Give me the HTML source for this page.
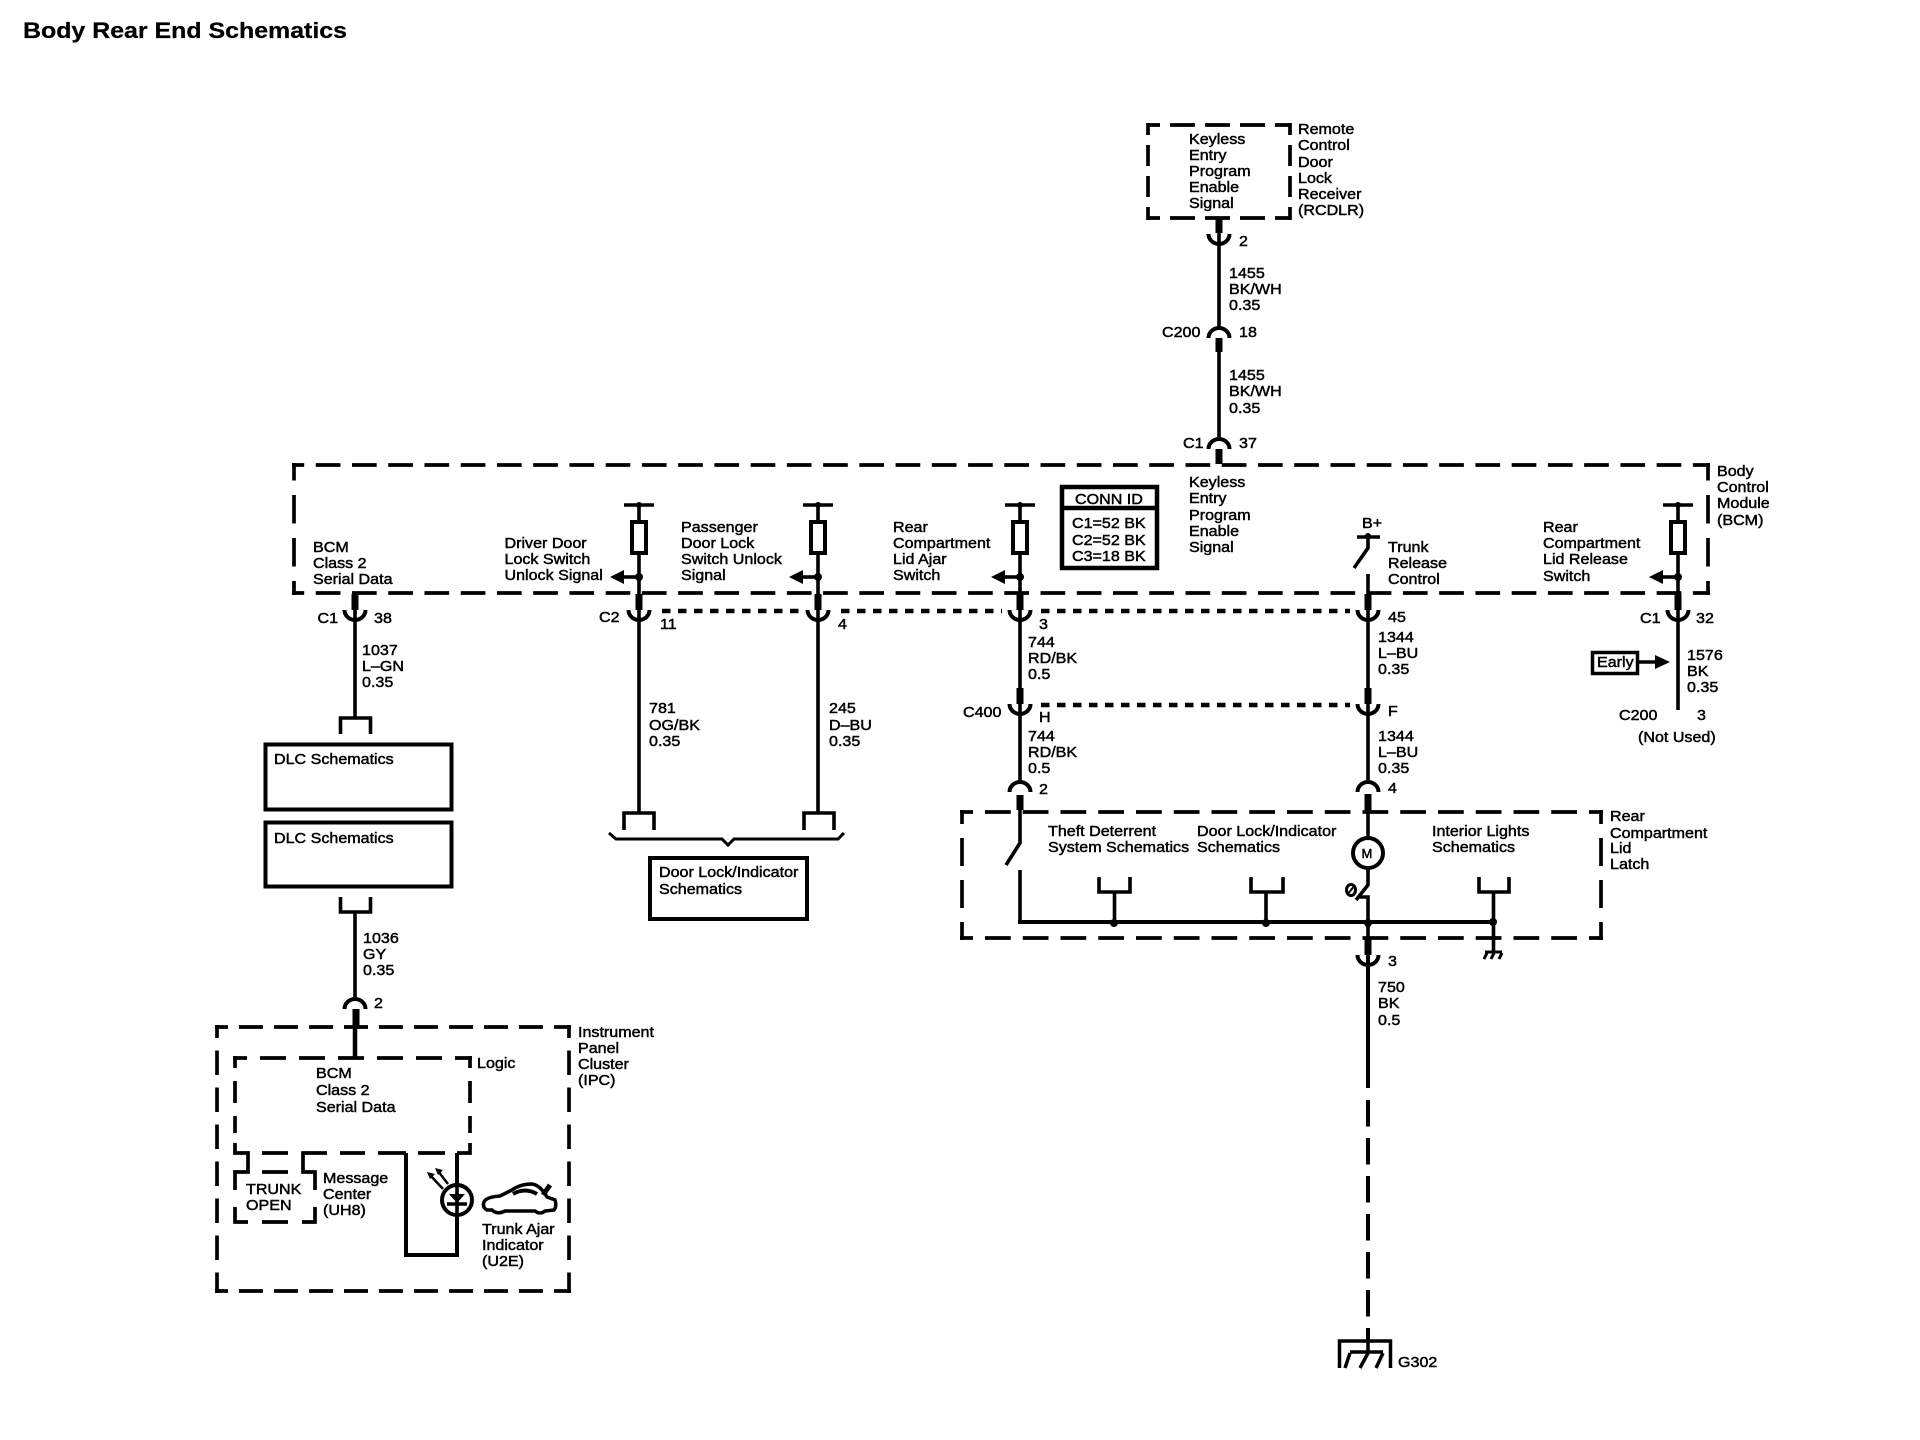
<!DOCTYPE html>
<html><head><meta charset="utf-8"><title>Body Rear End Schematics</title>
<style>
html,body{margin:0;padding:0;background:#fff}
svg{display:block}
text{font-family:"Liberation Sans",sans-serif;font-size:14.5px;fill:#000;stroke:#000;stroke-width:.45px}
.w{fill:none;stroke:#000;stroke-width:3.6}
.s{fill:none;stroke:#000;stroke-width:7}
.b{fill:none;stroke:#000;stroke-width:3.7}
.p{fill:none;stroke:#000;stroke-width:4.5}
.d{fill:#000;stroke:none}
</style></head><body>
<svg xmlns="http://www.w3.org/2000/svg" width="1920" height="1440" viewBox="0 0 1920 1440">
<defs>
<path id="u" d="M-10.5 0A10.5 10 0 0 0 10.5 0" fill="none" stroke="#000" stroke-width="4"/>
<path id="n" d="M-10.5 12A10.5 10 0 0 1 10.5 12" fill="none" stroke="#000" stroke-width="4"/>
<g id="fuse">
<path d="M-15 0H15M0 0V17M0 48V72" fill="none" stroke="#000" stroke-width="3.6"/>
<rect x="-7" y="17" width="14" height="31" fill="#fff" stroke="#000" stroke-width="4"/>
<circle cx="0" cy="0" r="3" fill="#000"/>
<circle cx="0" cy="72" r="4" fill="#000"/>
<path d="M0 72H-15" stroke="#000" stroke-width="3.6"/>
<path d="M-29 72L-15 65V79Z" fill="#000"/>
</g>
</defs>
<rect width="1920" height="1440" fill="#fff"/>

<text x="23" y="38" textLength="324" lengthAdjust="spacingAndGlyphs" style="font-size:22px;font-weight:bold;stroke-width:.25px">Body Rear End Schematics</text>

<!-- RCDLR box -->
<path class="b" d="M1148 125H1290" stroke-dasharray="25 10" stroke-dashoffset="13"/>
<path class="b" d="M1148 218H1290" stroke-dasharray="25 10" stroke-dashoffset="13"/>
<path class="b" d="M1148 123V220" stroke-dasharray="21 10" stroke-dashoffset="9"/>
<path class="b" d="M1290 123V220" stroke-dasharray="21 10" stroke-dashoffset="9"/>

<!-- BCM box -->
<path class="b" d="M292 465H1710" stroke-dasharray="24.7 11.54" stroke-dashoffset="12.5"/>
<path class="b" d="M292 593H1710" stroke-dasharray="24.7 11.54" stroke-dashoffset="12.5"/>
<path class="b" d="M294 463V595" stroke-dasharray="28.5 14.5" stroke-dashoffset="11"/>
<path class="b" d="M1708 463V595" stroke-dasharray="28.5 14.5" stroke-dashoffset="11"/>

<!-- Latch box -->
<path class="b" d="M960 812H1603" stroke-dasharray="25.75 12" stroke-dashoffset="12.75"/>
<path class="b" d="M960 938H1603" stroke-dasharray="25.75 12" stroke-dashoffset="12.75"/>
<path class="b" d="M962 810V940" stroke-dasharray="28 14" stroke-dashoffset="14"/>
<path class="b" d="M1601 810V940" stroke-dasharray="28 14" stroke-dashoffset="14"/>

<!-- IPC box -->
<path class="b" d="M215 1027H571" stroke-dasharray="24 11" stroke-dashoffset="11"/>
<path class="b" d="M215 1291H571" stroke-dasharray="24 11" stroke-dashoffset="11"/>
<path class="b" d="M217 1025V1293" stroke-dasharray="24.5 12.5" stroke-dashoffset="11.5"/>
<path class="b" d="M569 1025V1293" stroke-dasharray="24.5 12.5" stroke-dashoffset="11.5"/>

<!-- Logic box -->
<path class="b" d="M233 1058H472" stroke-dasharray="26 13" stroke-dashoffset="12"/>
<path class="b" d="M235 1056V1133" stroke-dasharray="22 13" stroke-dashoffset="10"/>
<path class="b" d="M470 1056V1133" stroke-dasharray="22 13" stroke-dashoffset="10"/>
<path class="b" d="M235 1143V1153H248V1172H235V1190M235 1207V1222H248M262 1222H288M302 1222H315V1207M315 1190V1172H303V1153H327M262 1172H288M262 1153H288M340 1153H365M378 1153H406M418 1153H445M457 1153H470V1143"/>

<!-- Wire 1219 -->
<path class="w" d="M1219 232V328M1219 352V438"/>
<path class="s" d="M1219 219V233M1219 338V352M1219 449V464"/>
<use href="#u" x="1219" y="234"/><use href="#n" x="1219" y="326"/><use href="#n" x="1219" y="437"/>

<!-- Wire 355 -->
<path class="s" d="M355 594V610"/>
<path class="w" d="M355 610V718M340.5 734V718H370.5V734"/>
<use href="#u" x="355" y="610"/>
<path class="w" d="M340.5 897V912H370.5V897M355 912V998"/>
<use href="#n" x="355" y="997"/>
<path class="s" d="M356 1009V1026"/>
<path class="w" d="M355 1026V1058" style="stroke-width:4.5"/>

<!-- DLC boxes -->
<rect x="265.5" y="744.5" width="186" height="65" fill="none" stroke="#000" stroke-width="4"/>
<rect x="265.5" y="822.5" width="186" height="64" fill="none" stroke="#000" stroke-width="4"/>

<!-- Fused branches -->
<use href="#fuse" x="639" y="505"/><use href="#fuse" x="818" y="505"/>
<use href="#fuse" x="1020" y="505"/><use href="#fuse" x="1678" y="505"/>
<path class="w" d="M639 577V594M818 577V594M1020 577V594M1678 577V594"/>
<path class="s" d="M639 594V610M818 594V610M1020 594V610M1368 594V610M1678 594V610M1020 688V704M1368 688V704"/>
<use href="#u" x="639" y="610"/><use href="#u" x="818" y="610"/><use href="#u" x="1020" y="610"/><use href="#u" x="1368" y="610"/><use href="#u" x="1678" y="610"/>
<use href="#u" x="1020" y="704"/><use href="#u" x="1368" y="704"/>
<path class="w" d="M639 610V813M624 830V813H654V830M818 610V813M804 830V813H834V830"/>
<path class="w" d="M1020 610V688M1020 704V782M1368 610V688M1368 704V782M1678 610V710"/>
<path class="p" d="M662 611H800M841 611H1002M1041 611H1350" stroke-dasharray="8.5 7.5"/>
<path class="p" d="M1041 705H1350" stroke-dasharray="8.5 7.5"/>

<!-- Brace & door lock box -->
<path d="M609 833L616 839H722L728 845L734 839H838L844 833" fill="none" stroke="#000" stroke-width="3"/>
<rect x="650" y="858" width="157" height="61" fill="none" stroke="#000" stroke-width="4"/>

<!-- CONN ID -->
<rect x="1062" y="487" width="95" height="81" fill="none" stroke="#000" stroke-width="4.5"/>
<path d="M1062 508H1157" stroke="#000" stroke-width="4.5"/>

<!-- Trunk release -->
<path class="w" d="M1357 537H1380M1368 537V548L1354 568M1368 574V594"/>
<circle cx="1368" cy="536" r="3" fill="#000"/>

<!-- Early -->
<rect x="1592.5" y="652.5" width="45" height="21" fill="none" stroke="#000" stroke-width="3.5"/>
<path class="w" d="M1639 662H1657"/><path class="d" d="M1670 662L1655 655V669Z"/>

<!-- Latch contents -->
<use href="#n" x="1020" y="780"/><use href="#n" x="1368" y="780"/>
<path class="s" d="M1020 795V810M1368 794V812"/>
<path class="w" d="M1020 810V843L1006 865M1020 870V922"/>
<path class="b" d="M1018 922H1493" style="stroke-width:4"/>
<path class="w" d="M1099 877V892H1130V877M1114.5 892V922M1251 877V892H1283V877M1266 892V922M1479 877V892H1509V877M1493.5 892V952"/>
<circle cx="1114" cy="923" r="4" fill="#000"/><circle cx="1266" cy="923" r="4" fill="#000"/><circle cx="1368" cy="923" r="4" fill="#000"/><circle cx="1493" cy="922" r="4" fill="#000"/>
<path d="M1485 952H1502M1487 953L1484 959M1494 953L1491 959M1502 953L1499 959" fill="none" stroke="#000" stroke-width="3"/>
<path class="w" d="M1368 812V838M1368 868V885L1356 900M1359 897H1368V938"/>
<circle cx="1368" cy="853" r="15" fill="#fff" stroke="#000" stroke-width="4"/>
<ellipse cx="1351" cy="890" rx="4.5" ry="5.5" fill="none" stroke="#000" stroke-width="3"/>
<path d="M1347 895L1355 885" stroke="#000" stroke-width="2"/>
<path class="s" d="M1368 938V955"/>
<use href="#u" x="1368" y="955"/>
<path class="b" d="M1368 955V1088" style="stroke-width:4"/>
<path class="b" d="M1368 1100V1341" stroke-dasharray="26.5 11.5" style="stroke-width:4"/>

<!-- G302 -->
<path d="M1339.5 1368V1341H1390.5V1368" fill="none" stroke="#000" stroke-width="3.5"/>
<path d="M1350 1352H1383M1368 1341V1352M1350 1353L1345 1368M1368 1353L1360 1368M1383 1353L1376 1368" fill="none" stroke="#000" stroke-width="3.5"/>

<!-- LED/Car -->
<path class="b" d="M406 1153V1255H457V1153" style="stroke-width:4"/>
<circle cx="457" cy="1200" r="15" fill="#fff" stroke="#000" stroke-width="4"/>
<path class="w" d="M457 1153V1255M447 1204H467"/>
<path class="d" d="M449 1194H465L457 1203Z"/>
<path d="M430 1175L443 1189M438 1171L448 1184" fill="none" stroke="#000" stroke-width="2.5"/>
<path class="d" d="M427 1172l8 2l-5 5ZM435 1168l8 2l-5 5Z"/>
<path d="M487 1210Q482 1207 484 1202Q486 1197 500 1196L512 1190Q520 1184 532 1184Q540 1185 547 1197L555 1200Q557 1206 554 1210L545 1211Q540 1215 535 1211L505 1211Q497 1215 492 1210Z" fill="none" stroke="#000" stroke-width="3.5"/>
<path d="M513 1194Q525 1187 537 1194" fill="none" stroke="#000" stroke-width="4"/>
<path d="M543 1195L550 1185" fill="none" stroke="#000" stroke-width="5"/>

<!-- Labels -->
<text transform="translate(1189 144)scale(1.11 1)">Keyless</text>
<text transform="translate(1189 160)scale(1.11 1)">Entry</text>
<text transform="translate(1189 176)scale(1.11 1)">Program</text>
<text transform="translate(1189 192)scale(1.11 1)">Enable</text>
<text transform="translate(1189 208)scale(1.11 1)">Signal</text>
<text transform="translate(1298 134)scale(1.11 1)">Remote</text>
<text transform="translate(1298 150)scale(1.11 1)">Control</text>
<text transform="translate(1298 167)scale(1.11 1)">Door</text>
<text transform="translate(1298 183)scale(1.11 1)">Lock</text>
<text transform="translate(1298 199)scale(1.11 1)">Receiver</text>
<text transform="translate(1298 215)scale(1.11 1)">(RCDLR)</text>
<text transform="translate(1239 246)scale(1.11 1)">2</text>
<text transform="translate(1229 278)scale(1.11 1)">1455</text>
<text transform="translate(1229 294)scale(1.11 1)">BK/WH</text>
<text transform="translate(1229 310)scale(1.11 1)">0.35</text>
<text transform="translate(1162 337)scale(1.11 1)">C200</text>
<text transform="translate(1239 337)scale(1.11 1)">18</text>
<text transform="translate(1229 380)scale(1.11 1)">1455</text>
<text transform="translate(1229 396)scale(1.11 1)">BK/WH</text>
<text transform="translate(1229 413)scale(1.11 1)">0.35</text>
<text transform="translate(1183 448)scale(1.11 1)">C1</text>
<text transform="translate(1239 448)scale(1.11 1)">37</text>
<text transform="translate(1189 487)scale(1.11 1)">Keyless</text>
<text transform="translate(1189 503)scale(1.11 1)">Entry</text>
<text transform="translate(1189 520)scale(1.11 1)">Program</text>
<text transform="translate(1189 536)scale(1.11 1)">Enable</text>
<text transform="translate(1189 552)scale(1.11 1)">Signal</text>

<text transform="translate(1717 476)scale(1.11 1)">Body</text>
<text transform="translate(1717 492)scale(1.11 1)">Control</text>
<text transform="translate(1717 508)scale(1.11 1)">Module</text>
<text transform="translate(1717 525)scale(1.11 1)">(BCM)</text>

<text transform="translate(313 552)scale(1.11 1)">BCM</text>
<text transform="translate(313 568)scale(1.11 1)">Class 2</text>
<text transform="translate(313 584)scale(1.11 1)">Serial Data</text>
<text transform="translate(504.5 548)scale(1.11 1)">Driver Door</text>
<text transform="translate(504.5 564)scale(1.11 1)">Lock Switch</text>
<text transform="translate(504.5 580)scale(1.11 1)">Unlock Signal</text>
<text transform="translate(681 532)scale(1.11 1)">Passenger</text>
<text transform="translate(681 548)scale(1.11 1)">Door Lock</text>
<text transform="translate(681 564)scale(1.11 1)">Switch Unlock</text>
<text transform="translate(681 580)scale(1.11 1)">Signal</text>
<text transform="translate(893 532)scale(1.11 1)">Rear</text>
<text transform="translate(893 548)scale(1.11 1)">Compartment</text>
<text transform="translate(893 564)scale(1.11 1)">Lid Ajar</text>
<text transform="translate(893 580)scale(1.11 1)">Switch</text>
<text transform="translate(1075 504)scale(1.11 1)">CONN ID</text>
<text transform="translate(1072 528)scale(1.11 1)">C1=52 BK</text>
<text transform="translate(1072 545)scale(1.11 1)">C2=52 BK</text>
<text transform="translate(1072 561)scale(1.11 1)">C3=18 BK</text>
<text transform="translate(1362 528)scale(1.11 1)">B+</text>
<text transform="translate(1388 552)scale(1.11 1)">Trunk</text>
<text transform="translate(1388 568)scale(1.11 1)">Release</text>
<text transform="translate(1388 584)scale(1.11 1)">Control</text>
<text transform="translate(1543 532)scale(1.11 1)">Rear</text>
<text transform="translate(1543 548)scale(1.11 1)">Compartment</text>
<text transform="translate(1543 564)scale(1.11 1)">Lid Release</text>
<text transform="translate(1543 581)scale(1.11 1)">Switch</text>

<text transform="translate(317.5 623)scale(1.11 1)">C1</text>
<text transform="translate(374 623)scale(1.11 1)">38</text>
<text transform="translate(362 655)scale(1.11 1)">1037</text>
<text transform="translate(362 671)scale(1.11 1)">L–GN</text>
<text transform="translate(362 687)scale(1.11 1)">0.35</text>
<text transform="translate(274 764)scale(1.11 1)">DLC Schematics</text>
<text transform="translate(274 843)scale(1.11 1)">DLC Schematics</text>
<text transform="translate(363 943)scale(1.11 1)">1036</text>
<text transform="translate(363 959)scale(1.11 1)">GY</text>
<text transform="translate(363 975)scale(1.11 1)">0.35</text>
<text transform="translate(374 1008)scale(1.11 1)">2</text>

<text transform="translate(599 622)scale(1.11 1)">C2</text>
<text transform="translate(660 629)scale(1.11 1)">11</text>
<text transform="translate(838 629)scale(1.11 1)">4</text>
<text transform="translate(649 713)scale(1.11 1)">781</text>
<text transform="translate(649 730)scale(1.11 1)">OG/BK</text>
<text transform="translate(649 746)scale(1.11 1)">0.35</text>
<text transform="translate(829 713)scale(1.11 1)">245</text>
<text transform="translate(829 730)scale(1.11 1)">D–BU</text>
<text transform="translate(829 746)scale(1.11 1)">0.35</text>
<text transform="translate(659 877)scale(1.11 1)">Door Lock/Indicator</text>
<text transform="translate(659 894)scale(1.11 1)">Schematics</text>

<text transform="translate(1039 629)scale(1.11 1)">3</text>
<text transform="translate(1028 647)scale(1.11 1)">744</text>
<text transform="translate(1028 663)scale(1.11 1)">RD/BK</text>
<text transform="translate(1028 679)scale(1.11 1)">0.5</text>
<text transform="translate(963 717)scale(1.11 1)">C400</text>
<text transform="translate(1039 722)scale(1.11 1)">H</text>
<text transform="translate(1028 741)scale(1.11 1)">744</text>
<text transform="translate(1028 757)scale(1.11 1)">RD/BK</text>
<text transform="translate(1028 773)scale(1.11 1)">0.5</text>
<text transform="translate(1039 794)scale(1.11 1)">2</text>
<text transform="translate(1388 622)scale(1.11 1)">45</text>
<text transform="translate(1378 642)scale(1.11 1)">1344</text>
<text transform="translate(1378 658)scale(1.11 1)">L–BU</text>
<text transform="translate(1378 674)scale(1.11 1)">0.35</text>
<text transform="translate(1388 716)scale(1.11 1)">F</text>
<text transform="translate(1378 741)scale(1.11 1)">1344</text>
<text transform="translate(1378 757)scale(1.11 1)">L–BU</text>
<text transform="translate(1378 773)scale(1.11 1)">0.35</text>
<text transform="translate(1388 793)scale(1.11 1)">4</text>

<text transform="translate(1640 623)scale(1.11 1)">C1</text>
<text transform="translate(1696 623)scale(1.11 1)">32</text>
<text transform="translate(1597 667)scale(1.11 1)">Early</text>
<text transform="translate(1687 660)scale(1.11 1)">1576</text>
<text transform="translate(1687 676)scale(1.11 1)">BK</text>
<text transform="translate(1687 692)scale(1.11 1)">0.35</text>
<text transform="translate(1619 720)scale(1.11 1)">C200</text>
<text transform="translate(1697 720)scale(1.11 1)">3</text>
<text transform="translate(1638 742)scale(1.11 1)">(Not Used)</text>

<text transform="translate(1048 836)scale(1.11 1)">Theft Deterrent</text>
<text transform="translate(1048 852)scale(1.11 1)">System Schematics</text>
<text transform="translate(1197 836)scale(1.11 1)">Door Lock/Indicator</text>
<text transform="translate(1197 852)scale(1.11 1)">Schematics</text>
<text transform="translate(1432 836)scale(1.11 1)">Interior Lights</text>
<text transform="translate(1432 852)scale(1.11 1)">Schematics</text>
<text transform="translate(1610 821)scale(1.11 1)">Rear</text>
<text transform="translate(1610 838)scale(1.11 1)">Compartment</text>
<text transform="translate(1610 853)scale(1.11 1)">Lid</text>
<text transform="translate(1610 869)scale(1.11 1)">Latch</text>
<text transform="translate(1361.5 858)" style="font-size:13px">M</text>
<text transform="translate(1388 966)scale(1.11 1)">3</text>
<text transform="translate(1378 992)scale(1.11 1)">750</text>
<text transform="translate(1378 1008)scale(1.11 1)">BK</text>
<text transform="translate(1378 1025)scale(1.11 1)">0.5</text>
<text transform="translate(1398 1367)scale(1.11 1)">G302</text>

<text transform="translate(578 1037)scale(1.11 1)">Instrument</text>
<text transform="translate(578 1053)scale(1.11 1)">Panel</text>
<text transform="translate(578 1069)scale(1.11 1)">Cluster</text>
<text transform="translate(578 1085)scale(1.11 1)">(IPC)</text>
<text transform="translate(477 1068)scale(1.11 1)">Logic</text>
<text transform="translate(316 1078)scale(1.11 1)">BCM</text>
<text transform="translate(316 1095)scale(1.11 1)">Class 2</text>
<text transform="translate(316 1112)scale(1.11 1)">Serial Data</text>
<text transform="translate(246 1194)scale(1.11 1)">TRUNK</text>
<text transform="translate(246 1210)scale(1.11 1)">OPEN</text>
<text transform="translate(323 1183)scale(1.11 1)">Message</text>
<text transform="translate(323 1199)scale(1.11 1)">Center</text>
<text transform="translate(323 1215)scale(1.11 1)">(UH8)</text>
<text transform="translate(482 1234)scale(1.11 1)">Trunk Ajar</text>
<text transform="translate(482 1250)scale(1.11 1)">Indicator</text>
<text transform="translate(482 1266)scale(1.11 1)">(U2E)</text>
</svg>
</body></html>
